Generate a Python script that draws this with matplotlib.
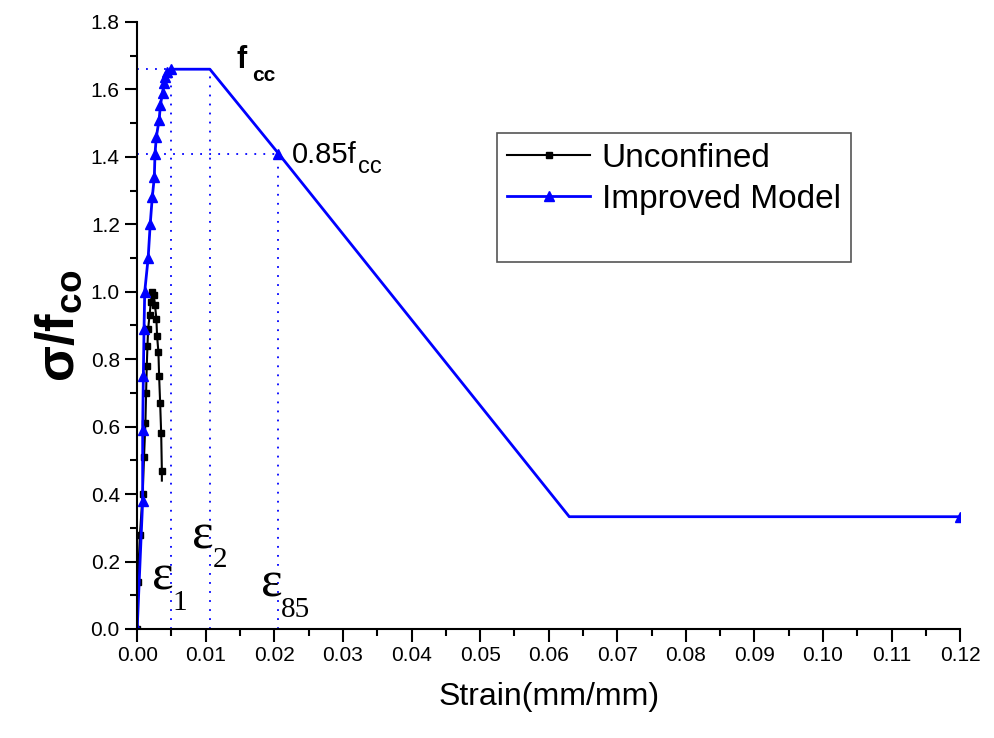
import matplotlib
matplotlib.use("Agg")
import matplotlib.pyplot as plt
from matplotlib.lines import Line2D
from matplotlib.ticker import MultipleLocator

plt.rcParams['font.family'] = ['Liberation Sans', 'DejaVu Sans']
plt.rcParams['mathtext.fontset'] = 'custom'
plt.rcParams['mathtext.rm'] = 'Liberation Sans'
plt.rcParams['mathtext.bf'] = 'Liberation Sans:bold'

# Unconfined concrete (normalised stress vs strain)
unc_strain = [0.0, 0.0001, 0.0004, 0.0008, 0.0010, 0.0012, 0.0013, 0.0014, 0.0015,
              0.0016, 0.0018, 0.0020, 0.0022, 0.0024, 0.0026, 0.0028, 0.0029,
              0.0031, 0.0032, 0.00335, 0.0035, 0.0036, 0.0036]
unc_stress = [0.0, 0.14, 0.28, 0.40, 0.51, 0.61, 0.70, 0.78, 0.84,
              0.89, 0.93, 0.97, 1.00, 0.99, 0.96, 0.92, 0.87,
              0.82, 0.75, 0.67, 0.58, 0.47, 0.44]

# Improved model (confined)
imp_strain = [0.0, 0.0008, 0.0008, 0.0009, 0.0010, 0.0011, 0.0016, 0.0019, 0.0022,
              0.0025, 0.0026, 0.0028, 0.0032, 0.0034, 0.0037, 0.0039, 0.0040,
              0.0044, 0.0049, 0.0106, 0.0206, 0.063, 0.12]
imp_stress = [0.0, 0.38, 0.59, 0.75, 0.89, 1.00, 1.10, 1.20, 1.28,
              1.34, 1.41, 1.46, 1.51, 1.555, 1.59, 1.618, 1.638,
              1.653, 1.66, 1.66, 1.41, 0.333, 0.333]

# key points
fcc = 1.66
f85 = 1.41
eps1 = 0.0049
eps2 = 0.0106
eps85 = 0.0206

fig = plt.figure(figsize=(9.94, 7.38), dpi=100)
ax = fig.add_axes([0.138, 0.1477, 0.828, 0.8225])

ax.plot(unc_strain, unc_stress, color='black', lw=1.5, marker='s', ms=5,
        markevery=list(range(len(unc_strain) - 1)), label='Unconfined')
imp_marks = [i for i in range(len(imp_strain)) if i not in (19, 21)]
ax.plot(imp_strain, imp_stress, color='blue', lw=2, marker='^', ms=7,
        markevery=imp_marks, label='Improved Model')

# dotted guide lines
dot = dict(color='blue', lw=1.3, ls=(0, (1, 4)))
ax.plot([0, eps2], [fcc, fcc], **dot)
ax.plot([eps1, eps1], [0, fcc], **dot)
ax.plot([eps2, eps2], [0, fcc], **dot)
ax.plot([0, eps85], [f85, f85], **dot)
ax.plot([eps85, eps85], [0, f85], **dot)

# annotations (main letter + subscript as separate texts)
ax.text(0.0145, 1.664, 'f', fontsize=22, fontweight='bold', va='baseline')
ax.text(0.0167, 1.625, 'cc', fontsize=15, fontweight='bold', va='baseline')
ax.text(0.0226, 1.382, '0.85f', fontsize=21, va='baseline')
ax.text(0.0322, 1.352, 'cc', fontsize=17, va='baseline')

serif = ['Liberation Serif', 'DejaVu Serif']
eps_labels = [('1', 0.0021, 0.116, 0.0052, 0.056),
              ('2', 0.0080, 0.240, 0.0110, 0.184),
              ('85', 0.0180, 0.095, 0.0210, 0.036)]
for sub, ex, ey, sx, sy in eps_labels:
    ax.text(ex, ey, 'ε', fontsize=37, family=serif, va='baseline')
    ax.text(sx, sy, sub, fontsize=21, family=serif, va='baseline')

ax.set_xlim(0, 0.12)
ax.set_ylim(0, 1.8)
ax.xaxis.set_major_locator(MultipleLocator(0.01))
ax.xaxis.set_minor_locator(MultipleLocator(0.005))
ax.yaxis.set_major_locator(MultipleLocator(0.2))
ax.yaxis.set_minor_locator(MultipleLocator(0.1))
ax.xaxis.set_major_formatter(plt.FuncFormatter(lambda v, p: f'{v:.2f}'))
ax.yaxis.set_major_formatter(plt.FuncFormatter(lambda v, p: f'{v:.1f}'))
ax.tick_params(which='major', direction='out', length=9, width=1.5, labelsize=15)
ax.tick_params(which='minor', direction='out', length=5, width=1.5)
ax.spines['top'].set_visible(False)
ax.spines['right'].set_visible(False)
for s in ('left', 'bottom'):
    ax.spines[s].set_linewidth(1.5)

ax.set_xlabel('Strain(mm/mm)', fontsize=23, labelpad=12)
ax.set_ylabel(r'$\mathbf{\sigma/f_{co}}$', fontsize=38, labelpad=4)

handles, labels = ax.get_legend_handles_labels()
handles.append(Line2D([], [], ls='none'))
labels.append(' ')
leg = ax.legend(handles, labels, loc='upper left', bbox_to_anchor=(0.437, 0.817),
                borderaxespad=0, fontsize=24, fancybox=False, edgecolor='#555555',
                handlelength=2.5, borderpad=0.3, labelspacing=0.3,
                handletextpad=0.35, framealpha=1)
leg.get_texts()[2].set_fontsize(13)
leg.get_frame().set_linewidth(1.2)

fig.savefig('out.png', dpi=100)
